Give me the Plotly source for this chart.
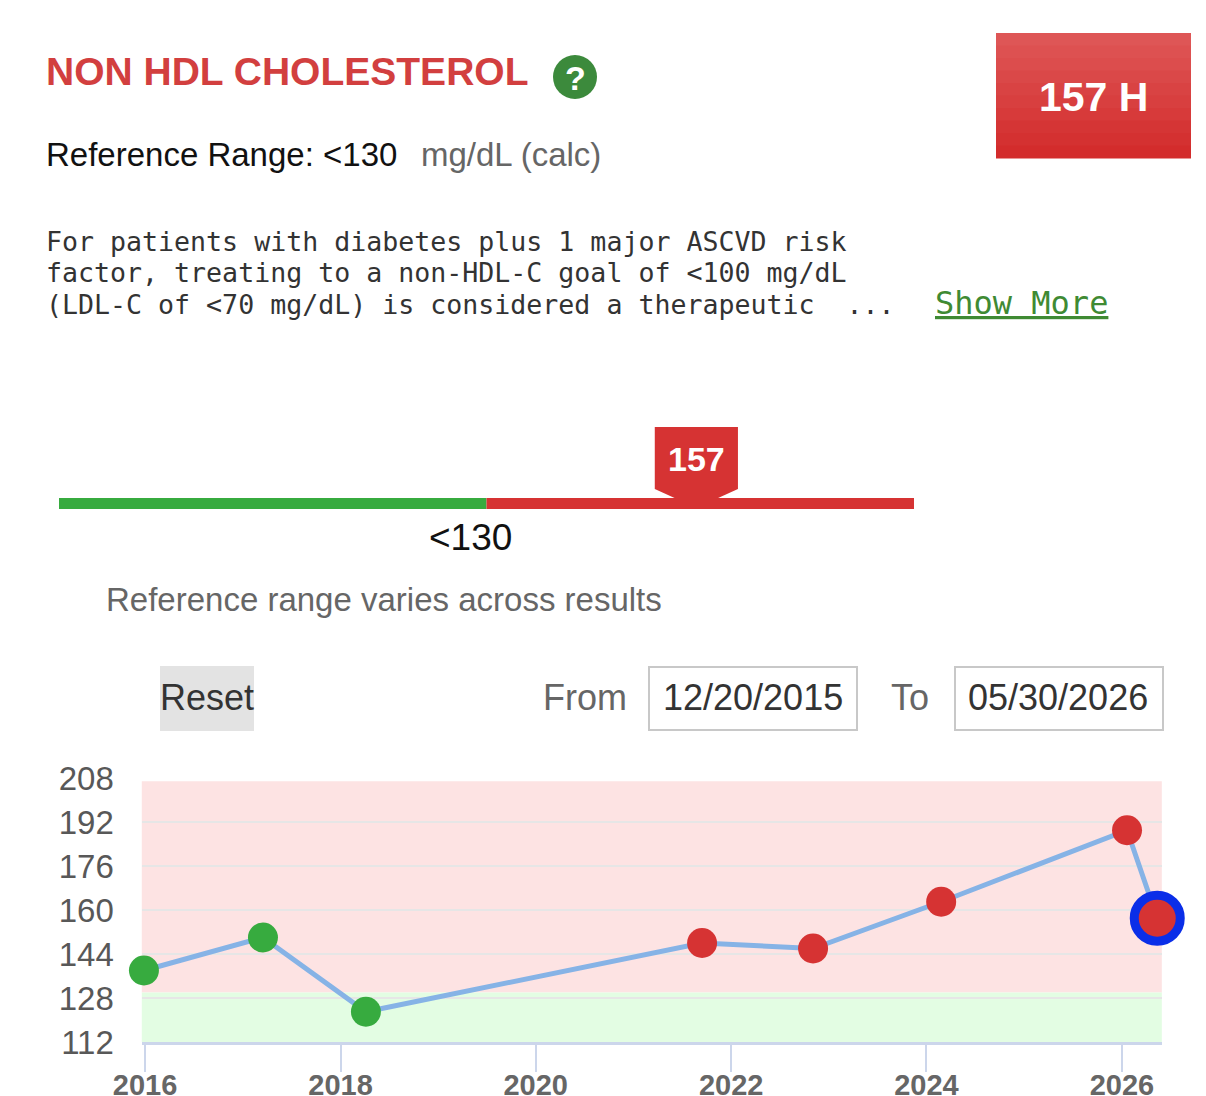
import plotly.graph_objects as go

W, H = 1206, 1096
OFF = 8  # the page body margin shifts the figure by 8px

# ---- data ----
test_name = "NON HDL CHOLESTEROL"
latest_value = 157
latest_flag = "H"
ref_limit = 130
ref_text = "<130"
units = "mg/dL (calc)"
note_lines = [
    "For patients with diabetes plus 1 major ASCVD risk",
    "factor, treating to a non-HDL-C goal of <100 mg/dL",
    "(LDL-C of <70 mg/dL) is considered a therapeutic  ...",
]
from_date = "12/20/2015"
to_date = "05/30/2026"

range_bar_min = 75
range_bar_max = 185

dates = ["2015-12-28", "2017-03-17", "2018-04-06", "2021-09-14",
         "2022-11-03", "2024-02-25", "2026-01-20", "2026-05-13"]
values = [138, 150, 123, 148, 146, 163, 189, 157]
flags = ["N", "N", "N", "H", "H", "H", "H", "H"]  # range varied across results

y_ticks = [112, 128, 144, 160, 176, 192, 208]
x_range = ["2015-12-20", "2026-05-30"]

RED = "#d63333"
GREEN = "#37ab3f"
SANS = "Liberation Sans, Arial, sans-serif"
MONO = "DejaVu Sans Mono, monospace"


def px(x):
    return (x - OFF) / W


def py(y):
    return 1 - (y - OFF) / H


fig = go.Figure()

# main trend
colors = [RED if f == "H" else GREEN for f in flags]
sizes = [30] * (len(values) - 1) + [46]
lw = [0] * (len(values) - 1) + [9]
fig.add_trace(go.Scatter(
    x=dates, y=values, mode="lines+markers",
    line=dict(color="#86b3e6", width=5),
    marker=dict(color=colors, size=sizes, opacity=1,
                line=dict(color="#0a2ee8", width=lw)),
    cliponaxis=False, hoverinfo="x+y", showlegend=False,
    xaxis="x", yaxis="y",
))

# invisible trace so the range bar axes exist
fig.add_trace(go.Scatter(
    x=[latest_value], y=[458], mode="markers", marker=dict(opacity=0),
    xaxis="x2", yaxis="y2", showlegend=False, hoverinfo="skip",
))

fig.update_layout(
    width=W, height=H, autosize=False,
    margin=dict(l=0, r=0, t=0, b=0, pad=0),
    paper_bgcolor="white", plot_bgcolor="white",
    font=dict(family=SANS),
    xaxis=dict(
        domain=[px(141.8), px(1161.8)], range=x_range, type="date",
        tick0="2016-01-01", dtick="M24", tickformat="%Y",
        showgrid=False, showline=True, linecolor="#ccd6eb", linewidth=3,
        ticks="outside", ticklen=27, tickwidth=2, tickcolor="#ccd6eb",
        ticklabelstandoff=-12,
        tickfont=dict(size=29, color="#666666", family=SANS, weight="bold"),
        anchor="y", fixedrange=True, zeroline=False, automargin=False,
    ),
    yaxis=dict(
        domain=[py(1042), py(778)], range=[y_ticks[0], y_ticks[-1]],
        tickvals=y_ticks, showgrid=True, gridcolor="#e6e6e6", gridwidth=2,
        showline=False, zeroline=False, ticks="", ticklabelstandoff=27,
        tickfont=dict(size=33, color="#585858", family=SANS),
        anchor="x", fixedrange=True, automargin=False,
    ),
    xaxis2=dict(
        domain=[px(59), px(914)], range=[range_bar_min, range_bar_max],
        visible=False, anchor="y2", fixedrange=True, automargin=False,
    ),
    yaxis2=dict(
        domain=[py(530), py(410)], range=[530, 410],
        visible=False, anchor="x2", fixedrange=True, automargin=False,
    ),
)

shapes = []
# chart bands
shapes.append(dict(type="rect", xref="x domain", yref="y", x0=0, x1=1,
                   y0=ref_limit, y1=206.8, fillcolor="#fde3e3",
                   line_width=0, layer="below"))
shapes.append(dict(type="rect", xref="x domain", yref="y", x0=0, x1=1,
                   y0=y_ticks[0], y1=ref_limit, fillcolor="#e3fde3",
                   line_width=0, layer="below"))

# range bar
shapes.append(dict(type="rect", xref="x2", yref="y2", x0=range_bar_min,
                   x1=ref_limit, y0=498, y1=509, fillcolor=GREEN, line_width=0))
shapes.append(dict(type="rect", xref="x2", yref="y2", x0=ref_limit,
                   x1=range_bar_max, y0=498, y1=509, fillcolor=RED, line_width=0))
v = latest_value
shapes.append(dict(
    type="path", xref="x2", yref="y2",
    path=(f"M {v-5.35},427 L {v+5.35},427 L {v+5.35},489 L {v+2.8},498 "
          f"L {v-2.8},498 L {v-5.35},489 Z"),
    fillcolor=RED, line_width=0))

# header badge with a soft vertical gradient
top_c, bot_c = (222, 86, 86), (211, 44, 44)
n_band = 10
for i in range(n_band):
    t = i / (n_band - 1)
    c = tuple(round(a + (b - a) * t) for a, b in zip(top_c, bot_c))
    y0 = 33 + (158 - 33) * i / n_band
    y1 = 33 + (158 - 33) * (i + 1) / n_band
    shapes.append(dict(type="rect", xref="paper", yref="paper",
                       x0=px(996), x1=px(1191), y0=py(y1 + 0.5), y1=py(y0),
                       fillcolor="rgb(%d,%d,%d)" % c, line_width=0))
# help circle
shapes.append(dict(type="circle", xref="paper", yref="paper",
                   x0=px(553), x1=px(597), y0=py(99), y1=py(55),
                   fillcolor="#3c8a3c", line_width=0))
# reset button
shapes.append(dict(type="rect", xref="paper", yref="paper",
                   x0=px(160), x1=px(254), y0=py(731), y1=py(666),
                   fillcolor="#e3e3e3", line_width=0))
# date boxes
for x0, x1 in [(649, 857), (955, 1163)]:
    shapes.append(dict(type="rect", xref="paper", yref="paper",
                       x0=px(x0), x1=px(x1), y0=py(730), y1=py(667),
                       fillcolor="white", line=dict(color="#c8c8c8", width=2)))
fig.update_layout(shapes=shapes)


def note(x, y, text, size, color="#222222", family=SANS, anchor="left", bold=False, xref="paper"):
    fig.add_annotation(
        x=px(x) if xref == "paper" else x, y=py(y), xref=xref, yref="paper",
        text=text, showarrow=False, xanchor=anchor, yanchor="middle",
        font=dict(size=size, color=color, family=family,
                  weight="bold" if bold else "normal"),
    )


note(44, 71, test_name, 39, color="#d23f3f", bold=True)
note(575, 78, "?", 34, color="white", anchor="center", bold=True)
note(1093, 97, f"{latest_value} {latest_flag}", 41, color="white", anchor="center", bold=True)
note(44, 155, f"Reference Range: {ref_text}", 33, color="#111111")
note(419, 155, units, 33, color="#666666")
for i, line in enumerate(note_lines):
    note(44, 242 + i * 31, line, 26.6, color="#333333", family=MONO)
note(933, 303, "<u>Show More</u>", 32, color="#3f8a33", family=MONO)

note(v, 459, str(latest_value), 34, color="white", anchor="center", bold=True, xref="x2")
note(ref_limit - 2, 537, ref_text, 37, color="#111111", anchor="center", xref="x2")
note(104, 599, "Reference range varies across results", 33, color="#666666")

note(207, 697, "Reset", 36, color="#333333", anchor="center")
note(585, 697, "From", 36, color="#666666", anchor="center")
note(753, 697, from_date, 36, color="#333333", anchor="center")
note(910, 697, "To", 36, color="#666666", anchor="center")
note(1058, 697, to_date, 36, color="#333333", anchor="center")

fig.write_html("out.html")
